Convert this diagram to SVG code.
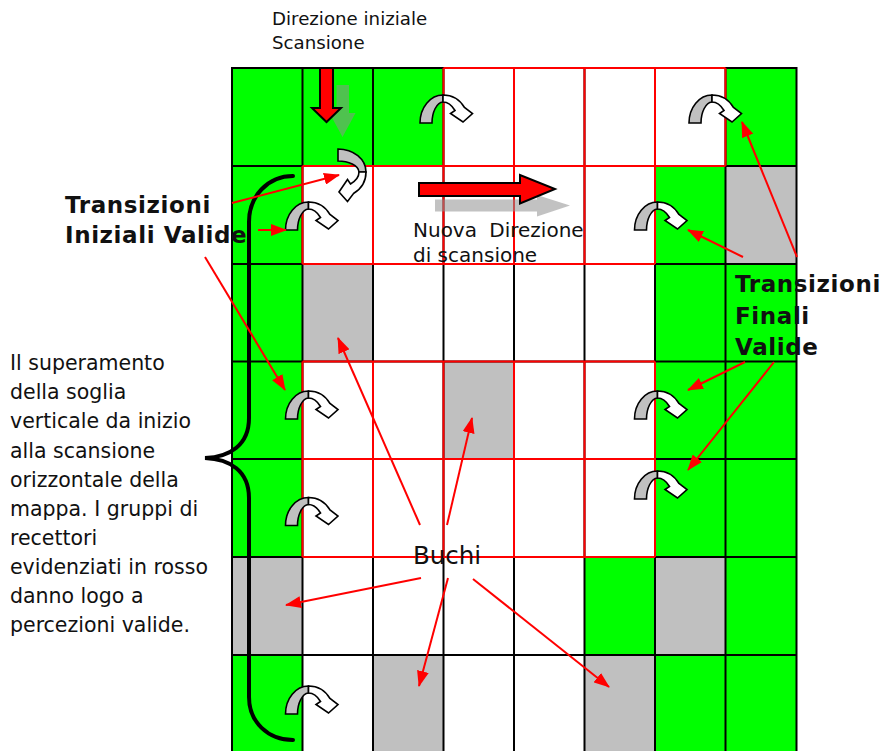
<svg xmlns="http://www.w3.org/2000/svg" xmlns:xlink="http://www.w3.org/1999/xlink" width="883" height="751" viewBox="0 0 883 751">
  <style>
    .txt { font-family: "DejaVu Sans", "Noto Sans", sans-serif; fill: #111; }
    .bold { font-weight: bold; letter-spacing: 0.6px; }
    .green { fill: #00ff00; }
    .gray { fill: #c0c0c0; }
    .gridline { fill: none; stroke: #000; stroke-width: 2; }
    .redline { fill: none; stroke: #ff0000; stroke-width: 2; }
    .block { fill: #ff0000; stroke: #000; stroke-width: 2; stroke-linejoin: miter; }
    .shadow { fill: #909090; opacity: 0.55; }
    .ptr { fill: none; stroke: #ff0000; stroke-width: 2; marker-end: url(#head); }
    .brace { fill: none; stroke: #000; stroke-width: 4; stroke-linecap: round; }
  </style>
  <defs>
    <marker id="head" viewBox="0 0 16 12" refX="15" refY="6" markerWidth="16" markerHeight="12" markerUnits="userSpaceOnUse" orient="auto">
      <path d="M0,0 L16,6 L0,12 Z" fill="#ff0000"/>
    </marker>
    <!-- U-turn arrow, origin at the top of the arch -->
    <g id="uturn" stroke="#000" stroke-width="1.6" stroke-linejoin="miter">
      <path d="M0,0 C-12.7,0 -23,12.5 -23,28 L-11,28 C-11,17.5 -6.5,7.5 0,7 Z" fill="#c0c0c0"/>
      <path d="M0,0 C9,0 17,5 21.5,12.5 L29.5,18.5 L20,27 L7.5,18.5 L12,15.5 C9,10.5 5,7 0,7 Z" fill="#fff"/>
    </g>
  </defs>

  <!-- map cells -->
  <g id="cells">
    <rect x="232" y="68" width="564.5" height="685" fill="#fff"/>
    <rect class="green" x="232" y="68" width="211.5" height="98"/>
    <rect class="green" x="725.5" y="68" width="71" height="98"/>
    <rect class="green" x="232" y="166" width="70.5" height="391"/>
    <rect class="green" x="655" y="166" width="70.5" height="98"/>
    <rect class="gray" x="725.5" y="166" width="71" height="98"/>
    <rect class="gray" x="302.5" y="264" width="70.5" height="97.5"/>
    <rect class="green" x="655" y="264" width="141.5" height="293"/>
    <rect class="gray" x="443.5" y="361.5" width="70.5" height="97.5"/>
    <rect class="gray" x="232" y="557" width="70.5" height="98"/>
    <rect class="green" x="584.5" y="557" width="70.5" height="98"/>
    <rect class="gray" x="655" y="557" width="70.5" height="98"/>
    <rect class="green" x="725.5" y="557" width="71" height="98"/>
    <rect class="green" x="232" y="655" width="70.5" height="98"/>
    <rect class="gray" x="373" y="655" width="70.5" height="98"/>
    <rect class="gray" x="584.5" y="655" width="70.5" height="98"/>
    <rect class="green" x="655" y="655" width="141.5" height="98"/>
  </g>

  <!-- receptor grid -->
  <g id="grid">
    <path class="gridline" d="M232,68 V753 M302.5,68 V753 M373,68 V753 M443.5,68 V753 M514,68 V753 M584.5,68 V753 M655,68 V753 M725.5,68 V753 M796.5,68 V753
      M231,68 H797.5 M231,166 H797.5 M231,264 H797.5 M231,361.5 H797.5 M231,459 H797.5 M231,557 H797.5 M231,655 H797.5"/>
  </g>

  <!-- receptor groups highlighted in red -->
  <g id="groups">
    <path class="redline" d="M443.5,68 H725.5 M443.5,166 H725.5 M443.5,68 V166 M514,68 V166 M584.5,68 V166 M655,68 V166 M725.5,68 V166
      M302.5,166 H655 M302.5,264 H655 M302.5,166 V264 M373,166 V264 M443.5,166 V264 M514,166 V264 M584.5,166 V264 M655,166 V264
      M302.5,361.5 H655 M302.5,459 H655 M302.5,557 H655 M302.5,361.5 V557 M373,361.5 V557 M443.5,361.5 V557 M514,361.5 V557 M584.5,361.5 V557 M655,361.5 V557"/>
  </g>

  <!-- brace -->
  <g id="brace">
    <path class="brace" d="M293,176 C268,176 249,196 249,222 L249,418 C249,445 230,457 205,458 C230,459 249,471 249,498 L249,697 C249,722 268,740 293,740"/>
  </g>

  <!-- scan direction arrows -->
  <g id="direction-arrows">
    <path class="shadow" d="M336.5,85 L349,85 L349,113 L355.5,113 L342.5,137 L329.5,113 L336.5,113 Z"/>
    <path class="block" d="M320,68 L333,68 L333,108 L341,108 L326.5,122 L312,108 L320,108 Z"/>
    <path class="shadow" d="M435,199.5 L537,199.5 L537,195 L570,205.5 L537,216.5 L537,211.5 L435,211.5 Z"/>
    <path class="block" d="M419,183 L520,183 L520,175 L555,189 L520,203.5 L520,196 L419,196 Z"/>
  </g>

  <!-- transitions -->
  <g id="transitions">
    <use xlink:href="#uturn" transform="translate(443,95)"/>
    <use xlink:href="#uturn" transform="translate(712,95)"/>
    <use xlink:href="#uturn" transform="translate(366,172) rotate(90)"/>
    <use xlink:href="#uturn" transform="translate(308.5,202)"/>
    <use xlink:href="#uturn" transform="translate(657.5,202)"/>
    <use xlink:href="#uturn" transform="translate(308.5,391)"/>
    <use xlink:href="#uturn" transform="translate(657.5,391)"/>
    <use xlink:href="#uturn" transform="translate(308.5,497.5)"/>
    <use xlink:href="#uturn" transform="translate(657.5,471)"/>
    <use xlink:href="#uturn" transform="translate(308.5,686)"/>
  </g>

  <!-- connectors -->
  <g id="connectors">
    <line class="ptr" x1="232" y1="203" x2="339" y2="175"/>
    <line class="ptr" x1="258" y1="230" x2="286" y2="230"/>
    <line class="ptr" x1="205" y1="257" x2="285" y2="390"/>
    <line class="ptr" x1="797" y1="257" x2="742" y2="122"/>
    <line class="ptr" x1="743" y1="257" x2="688" y2="230"/>
    <line class="ptr" x1="745" y1="362" x2="688" y2="390"/>
    <line class="ptr" x1="774" y1="362" x2="688" y2="470"/>
    <line class="ptr" x1="420" y1="525" x2="338" y2="338"/>
    <line class="ptr" x1="447" y1="525" x2="472" y2="418"/>
    <line class="ptr" x1="421" y1="578" x2="286" y2="605"/>
    <line class="ptr" x1="448" y1="578" x2="419" y2="686"/>
    <line class="ptr" x1="473" y1="579" x2="609" y2="687"/>
  </g>

  <!-- labels -->
  <g id="label-start">
    <text class="txt" x="272" y="25" font-size="18.2">Direzione iniziale</text>
    <text class="txt" x="272" y="49" font-size="18.2">Scansione</text>
  </g>
  <g id="label-initial">
    <text class="txt bold" x="65" y="212.5" font-size="23">Transizioni</text>
    <text class="txt bold" x="65" y="243" font-size="23">Iniziali Valide</text>
  </g>
  <g id="label-new">
    <text class="txt" x="413" y="236.5" font-size="20" word-spacing="6">Nuova Direzione</text>
    <text class="txt" x="413" y="261.5" font-size="20">di scansione</text>
  </g>
  <g id="label-final">
    <text class="txt bold" x="735" y="292" font-size="23">Transizioni</text>
    <text class="txt bold" x="735" y="323.5" font-size="23">Finali</text>
    <text class="txt bold" x="735" y="355" font-size="23">Valide</text>
  </g>
  <g id="label-holes">
    <text class="txt" x="413" y="564" font-size="24.5">Buchi</text>
  </g>
  <g id="label-note">
    <text class="txt" x="10" font-size="20.5">
      <tspan x="10" y="370">Il superamento</tspan>
      <tspan x="10" y="399">della soglia</tspan>
      <tspan x="10" y="428">verticale da inizio</tspan>
      <tspan x="10" y="458">alla scansione</tspan>
      <tspan x="10" y="487">orizzontale della</tspan>
      <tspan x="10" y="516">mappa. I gruppi di</tspan>
      <tspan x="10" y="545">recettori</tspan>
      <tspan x="10" y="574">evidenziati in rosso</tspan>
      <tspan x="10" y="603">danno logo a</tspan>
      <tspan x="10" y="632">percezioni valide.</tspan>
    </text>
  </g>
</svg>
